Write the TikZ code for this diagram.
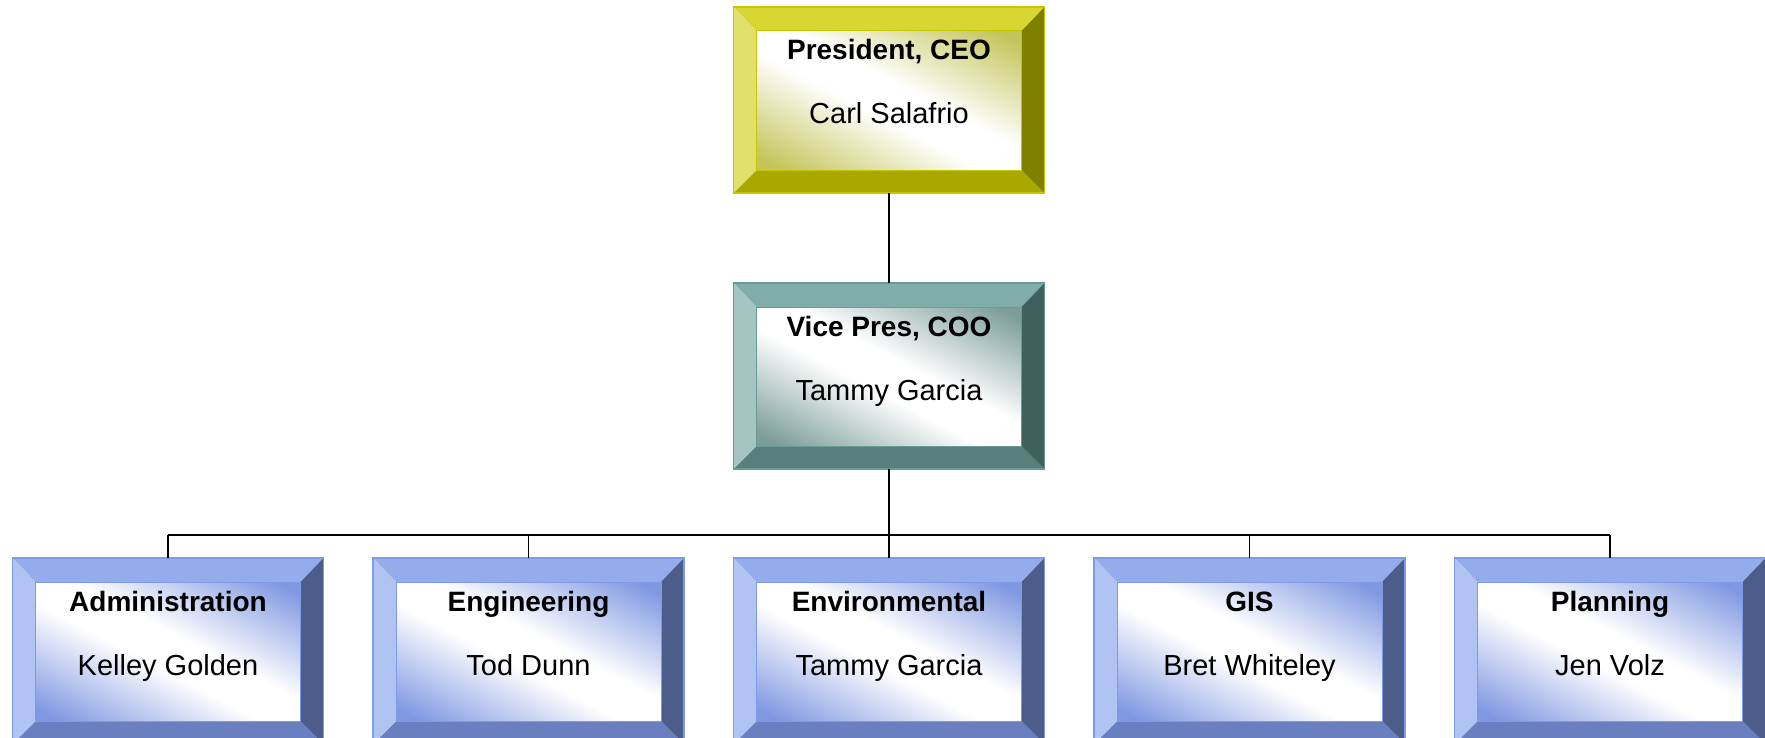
\documentclass[tikz,border=0pt]{standalone}
\usepackage{fontspec}
\setmainfont{Liberation Sans}
\definecolor{yT}{HTML}{D8D632}
\definecolor{yL}{HTML}{E2E06C}
\definecolor{yR}{HTML}{808000}
\definecolor{yB}{HTML}{A9A800}
\definecolor{yI}{HTML}{C4C45A}
\definecolor{yE}{HTML}{C8C600}
\definecolor{gT}{HTML}{80ADA9}
\definecolor{gL}{HTML}{A4C5C2}
\definecolor{gR}{HTML}{3F615E}
\definecolor{gB}{HTML}{587F7C}
\definecolor{gI}{HTML}{7C9D9A}
\definecolor{gE}{HTML}{6A9A96}
\definecolor{bT}{HTML}{94ACEC}
\definecolor{bL}{HTML}{B1C3F2}
\definecolor{bR}{HTML}{4C5D8C}
\definecolor{bB}{HTML}{6A7FBF}
\definecolor{bI}{HTML}{8098E2}
\definecolor{bE}{HTML}{7F9AE6}
\tikzset{
  conn/.style={draw=black, line width=0.8pt},
  ttl/.style={font=\fontsize{14pt}{16pt}\selectfont\bfseries, inner sep=0pt, anchor=base},
  nm/.style={font=\fontsize{14.5pt}{17pt}\selectfont, inner sep=0pt, anchor=base},
  boxnode/.style={rectangle, inner sep=0pt, outer sep=0pt, minimum width=155.5pt, minimum height=93pt}
}
\newcommand\orgbox[6]{%
  \pgfmathsetmacro\xl{#2-155.5}\pgfmathsetmacro\xr{#2+155.5}%
  \pgfmathsetmacro\yt{#3}\pgfmathsetmacro\yb{#3+186}%
  \pgfmathsetmacro\xil{\xl+23}\pgfmathsetmacro\xir{\xr-23}%
  \pgfmathsetmacro\yit{\yt+24}\pgfmathsetmacro\yib{\yb-23}%
  \pgfmathsetmacro\cy{(\yit+\yib)/2}%
  \fill[#4T] (\xl,\yt) -- (\xr,\yt) -- (\xir,\yit) -- (\xil,\yit) -- cycle;
  \fill[#4B] (\xl,\yb) -- (\xr,\yb) -- (\xir,\yib) -- (\xil,\yib) -- cycle;
  \fill[#4L] (\xl,\yt) -- (\xil,\yit) -- (\xil,\yib) -- (\xl,\yb) -- cycle;
  \fill[#4R] (\xr,\yt) -- (\xir,\yit) -- (\xir,\yib) -- (\xr,\yb) -- cycle;
  \begin{scope}
    \clip (\xil,\yit) rectangle (\xir,\yib);
    \fill[#4I] (\xil,\yit) rectangle (\xir,\yib);
    \begin{scope}[transform canvas={rotate around={-27.5:(#2,\cy)}}]
      \shade[top color=#4I, bottom color=white] ({#2-320},{\cy-112}) rectangle ({#2+320},{\cy-18});
      \fill[white] ({#2-320},{\cy-18.5}) rectangle ({#2+320},{\cy+18.5});
      \shade[top color=white, bottom color=#4I] ({#2-320},{\cy+18}) rectangle ({#2+320},{\cy+112});
    \end{scope}
  \end{scope}
  \draw[#4E, line width=0.5pt] (\xil,\yit) rectangle (\xir,\yib);
  \draw[#4E, line width=0.6pt] (\xl,\yt) rectangle (\xr,\yb);
  \node[boxnode] (#1) at (#2,{#3+93}) {};
  \node[ttl] (#1-t) at (#2,{#3+53}) {#5};
  \node[nm] (#1-n) at (#2,{#3+117}) {#6};
}
\begin{document}
\begin{tikzpicture}[x=0.5pt,y=-0.5pt]
\useasboundingbox (0,0) rectangle (1765,738);
\orgbox{pres}{889}{7}{y}{President, CEO}{Carl Salafrio}
\orgbox{vp}{889}{283}{g}{Vice Pres, COO}{Tammy Garcia}
\orgbox{adm}{168}{558}{b}{Administration}{Kelley Golden}
\orgbox{eng}{528.5}{558}{b}{Engineering}{Tod Dunn}
\orgbox{env}{889}{558}{b}{Environmental}{Tammy Garcia}
\orgbox{gis}{1249.5}{558}{b}{GIS}{Bret Whiteley}
\orgbox{plan}{1610}{558}{b}{Planning}{Jen Volz}
\coordinate (bus) at (889,535);
\draw[conn] (pres.south) -- (vp.north);
\draw[conn] (vp.south) -- (vp.south |- bus);
\draw[conn] (adm.north |- bus) -- (plan.north |- bus);
\foreach \b in {adm,eng,env,gis,plan}
  \draw[conn] (\b.north |- bus) -- (\b.north);
\end{tikzpicture}
\end{document}
